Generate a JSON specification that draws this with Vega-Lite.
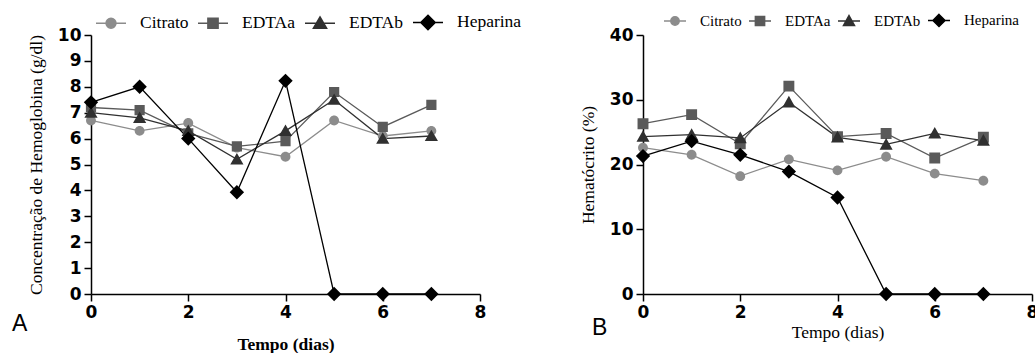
{
  "$schema": "https://vega.github.io/schema/vega-lite/v6.json",
  "padding": {"left": 12, "top": 6, "right": 0, "bottom": 0},
  "spacing": 57,
  "datasets": {
    "hb": [
      {"dia": 0, "grupo": "Citrato", "valor": 6.7}, {"dia": 1, "grupo": "Citrato", "valor": 6.3}, {"dia": 2, "grupo": "Citrato", "valor": 6.6}, {"dia": 3, "grupo": "Citrato", "valor": 5.65}, {"dia": 4, "grupo": "Citrato", "valor": 5.3}, {"dia": 5, "grupo": "Citrato", "valor": 6.7}, {"dia": 6, "grupo": "Citrato", "valor": 6.1}, {"dia": 7, "grupo": "Citrato", "valor": 6.3},
      {"dia": 0, "grupo": "EDTAa", "valor": 7.2}, {"dia": 1, "grupo": "EDTAa", "valor": 7.1}, {"dia": 2, "grupo": "EDTAa", "valor": 6.2}, {"dia": 3, "grupo": "EDTAa", "valor": 5.7}, {"dia": 4, "grupo": "EDTAa", "valor": 5.9}, {"dia": 5, "grupo": "EDTAa", "valor": 7.8}, {"dia": 6, "grupo": "EDTAa", "valor": 6.45}, {"dia": 7, "grupo": "EDTAa", "valor": 7.3},
      {"dia": 0, "grupo": "EDTAb", "valor": 7.0}, {"dia": 1, "grupo": "EDTAb", "valor": 6.8}, {"dia": 2, "grupo": "EDTAb", "valor": 6.3}, {"dia": 3, "grupo": "EDTAb", "valor": 5.2}, {"dia": 4, "grupo": "EDTAb", "valor": 6.3}, {"dia": 5, "grupo": "EDTAb", "valor": 7.5}, {"dia": 6, "grupo": "EDTAb", "valor": 6.0}, {"dia": 7, "grupo": "EDTAb", "valor": 6.1},
      {"dia": 0, "grupo": "Heparina", "valor": 7.4}, {"dia": 1, "grupo": "Heparina", "valor": 8.0}, {"dia": 2, "grupo": "Heparina", "valor": 6.0}, {"dia": 3, "grupo": "Heparina", "valor": 3.93}, {"dia": 4, "grupo": "Heparina", "valor": 8.23}, {"dia": 5, "grupo": "Heparina", "valor": 0}, {"dia": 6, "grupo": "Heparina", "valor": 0}, {"dia": 7, "grupo": "Heparina", "valor": 0}
    ],
    "ht": [
      {"dia": 0, "grupo": "Citrato", "valor": 22.6}, {"dia": 1, "grupo": "Citrato", "valor": 21.5}, {"dia": 2, "grupo": "Citrato", "valor": 18.2}, {"dia": 3, "grupo": "Citrato", "valor": 20.8}, {"dia": 4, "grupo": "Citrato", "valor": 19.1}, {"dia": 5, "grupo": "Citrato", "valor": 21.2}, {"dia": 6, "grupo": "Citrato", "valor": 18.6}, {"dia": 7, "grupo": "Citrato", "valor": 17.5},
      {"dia": 0, "grupo": "EDTAa", "valor": 26.3}, {"dia": 1, "grupo": "EDTAa", "valor": 27.7}, {"dia": 2, "grupo": "EDTAa", "valor": 23.2}, {"dia": 3, "grupo": "EDTAa", "valor": 32.1}, {"dia": 4, "grupo": "EDTAa", "valor": 24.3}, {"dia": 5, "grupo": "EDTAa", "valor": 24.8}, {"dia": 6, "grupo": "EDTAa", "valor": 21.0}, {"dia": 7, "grupo": "EDTAa", "valor": 24.2},
      {"dia": 0, "grupo": "EDTAb", "valor": 24.3}, {"dia": 1, "grupo": "EDTAb", "valor": 24.6}, {"dia": 2, "grupo": "EDTAb", "valor": 24.1}, {"dia": 3, "grupo": "EDTAb", "valor": 29.6}, {"dia": 4, "grupo": "EDTAb", "valor": 24.2}, {"dia": 5, "grupo": "EDTAb", "valor": 23.1}, {"dia": 6, "grupo": "EDTAb", "valor": 24.8}, {"dia": 7, "grupo": "EDTAb", "valor": 23.7},
      {"dia": 0, "grupo": "Heparina", "valor": 21.3}, {"dia": 1, "grupo": "Heparina", "valor": 23.6}, {"dia": 2, "grupo": "Heparina", "valor": 21.5}, {"dia": 3, "grupo": "Heparina", "valor": 18.9}, {"dia": 4, "grupo": "Heparina", "valor": 14.9}, {"dia": 5, "grupo": "Heparina", "valor": 0}, {"dia": 6, "grupo": "Heparina", "valor": 0}, {"dia": 7, "grupo": "Heparina", "valor": 0}
    ]
  },
  "hconcat": [
    {
      "width": 389,
      "height": 259,
      "data": {"name": "hb"},
      "title": {"text": "A", "orient": "bottom", "anchor": "start", "frame": "group", "font": "Liberation Sans", "fontSize": 23, "fontWeight": "normal", "color": "black", "dx": -79, "dy": -44},
      "encoding": {
        "x": {"field": "dia", "type": "quantitative", "scale": {"domain": [0, 8], "nice": false}, "axis": {"values": [0, 2, 4, 6, 8], "title": "Tempo (dias)", "titleFontWeight": "bold", "labelFlush": false, "titlePadding": 15}},
        "y": {"field": "valor", "type": "quantitative", "scale": {"domain": [0, 10], "nice": false}, "axis": {"values": [0, 1, 2, 3, 4, 5, 6, 7, 8, 9, 10], "title": "Concentração de Hemoglobina (g/dl)", "titlePadding": 12, "labelOverlap": false}},
        "color": {"field": "grupo", "type": "nominal", "scale": {"domain": ["Citrato", "EDTAa", "EDTAb", "Heparina"], "range": ["#8c8c8c", "#5a5a5a", "#303030", "#000000"]},
          "legend": {"title": null, "orient": "none", "legendX": 4, "legendY": -29, "direction": "horizontal", "labelFont": "Liberation Serif", "labelFontSize": 17.5, "labelFontWeight": "normal", "labelColor": "black", "labelOffset": 13, "columnPadding": 6, "symbolSize": 900, "symbolStrokeWidth": 1.5, "symbolOpacity": 1, "labelLimit": 300}}
      },
      "layer": [
        {"mark": {"type": "line", "strokeWidth": 1.3}},
        {
          "mark": {"type": "point", "filled": true, "opacity": 1, "size": 900},
          "encoding": {
            "shape": {"field": "grupo", "type": "nominal", "scale": {"domain": ["Citrato", "EDTAa", "EDTAb", "Heparina"], "range": ["M-1,0H1M0.33,0A0.33,0.33,0,1,1,-0.33,0A0.33,0.33,0,1,1,0.33,0Z", "M-1,0H1M-0.34,-0.34H0.34V0.34H-0.34Z", "M-1,0H1M0,-0.42L0.44,0.34L-0.44,0.34Z", "M-1,0H1M0,-0.48L0.48,0L0,0.48L-0.48,0Z"]}, "legend": null}
          }
        }
      ]
    },
    {
      "width": 389,
      "height": 259,
      "data": {"name": "ht"},
      "title": {"text": "B", "orient": "bottom", "anchor": "start", "frame": "group", "font": "Liberation Sans", "fontSize": 23, "fontWeight": "normal", "color": "black", "dx": -51, "dy": -28},
      "encoding": {
        "x": {"field": "dia", "type": "quantitative", "scale": {"domain": [0, 8], "nice": false}, "axis": {"values": [0, 2, 4, 6, 8], "title": "Tempo (dias)", "labelFlush": false, "titlePadding": 3}},
        "y": {"field": "valor", "type": "quantitative", "scale": {"domain": [0, 40], "nice": false}, "axis": {"values": [0, 10, 20, 30, 40], "title": "Hematócrito (%)", "titlePadding": 12}},
        "color": {"field": "grupo", "type": "nominal", "scale": {"domain": ["Citrato", "EDTAa", "EDTAb", "Heparina"], "range": ["#8c8c8c", "#5a5a5a", "#303030", "#000000"]},
          "legend": {"title": null, "orient": "none", "legendX": 20, "legendY": -27, "direction": "horizontal", "labelFont": "Liberation Serif", "labelFontSize": 15, "labelFontWeight": "normal", "labelColor": "black", "labelOffset": 13, "columnPadding": 4, "symbolSize": 484, "symbolStrokeWidth": 1.5, "symbolOpacity": 1, "labelLimit": 300}}
      },
      "layer": [
        {"mark": {"type": "line", "strokeWidth": 1.3}},
        {
          "mark": {"type": "point", "filled": true, "opacity": 1, "size": 676},
          "encoding": {
            "shape": {"field": "grupo", "type": "nominal", "scale": {"domain": ["Citrato", "EDTAa", "EDTAb", "Heparina"], "range": ["M-1,0H1M0.38,0A0.38,0.38,0,1,1,-0.38,0A0.38,0.38,0,1,1,0.38,0Z", "M-1,0H1M-0.42,-0.42H0.42V0.42H-0.42Z", "M-1,0H1M0,-0.5L0.5,0.4L-0.5,0.4Z", "M-1,0H1M0,-0.55L0.55,0L0,0.55L-0.55,0Z"]}, "legend": null}
          }
        }
      ]
    }
  ],
  "resolve": {
    "scale": {"color": "independent", "shape": "independent"},
    "legend": {"color": "independent", "shape": "independent"}
  },
  "config": {
    "view": {"stroke": null},
    "axis": {"domainColor": "black", "tickColor": "black", "domainWidth": 1.5, "tickWidth": 1.5, "labelFont": "DejaVu Sans", "labelFontWeight": "bold", "labelFontSize": 17, "labelColor": "black", "titleFont": "Liberation Serif", "titleFontSize": 17.5, "titleFontWeight": "normal", "titleColor": "black", "grid": false, "tickSize": 7, "labelPadding": 3}
  }
}
